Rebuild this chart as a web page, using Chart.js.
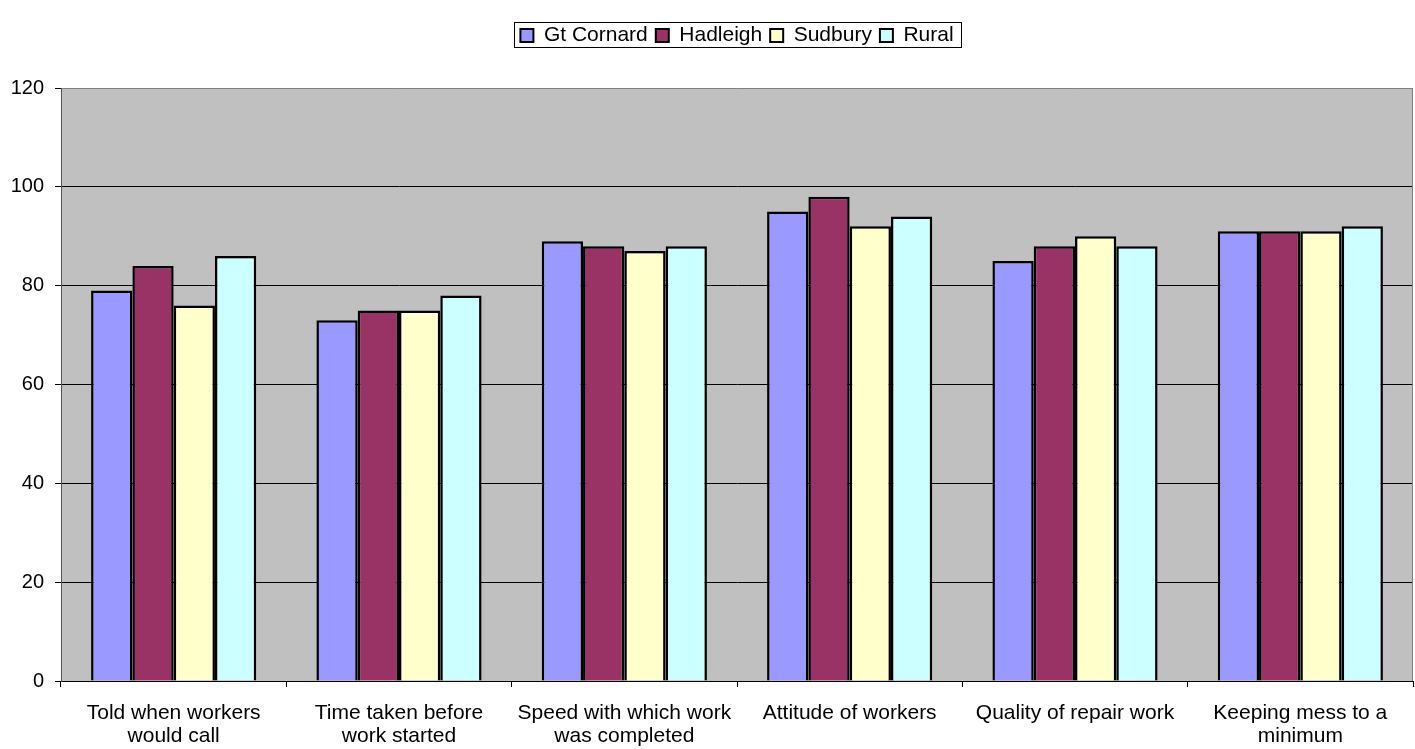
<!DOCTYPE html>
<html>
<head>
<meta charset="utf-8">
<script src="https://cdn.jsdelivr.net/npm/chart.js@4"></script>
<style>
html,body{margin:0;padding:0;background:#fff;}
#wrap{width:1415px;height:749px;}
</style>
</head>
<body>
<div id="wrap"><canvas id="c" width="1415" height="749"></canvas></div>
<script>
const categories = [
  ["Told when workers", "would call"],
  ["Time taken before", "work started"],
  ["Speed with which work", "was completed"],
  ["Attitude of workers"],
  ["Quality of repair work"],
  ["Keeping mess to a", "minimum"]
];
const seriesNames = ["Gt Cornard", "Hadleigh", "Sudbury", "Rural"];
const gtCornard = [79, 73, 89, 95, 85, 91];
const hadleigh  = [84, 75, 88, 98, 88, 91];
const sudbury   = [76, 75, 87, 92, 90, 91];
const rural     = [86, 78, 88, 94, 88, 92];
const yTicks = [0, 20, 40, 60, 80, 100, 120];

const colors = ["#9999FF", "#993366", "#FFFFCC", "#CCFFFF"];
const values = [gtCornard, hadleigh, sudbury, rural];
const FONT = "'Liberation Sans', Arial, sans-serif";

const bgPlugin = {
  id: 'plotBg',
  beforeDraw(chart) {
    const a = chart.chartArea, ctx = chart.ctx;
    ctx.save();
    ctx.fillStyle = '#C0C0C0';
    ctx.fillRect(a.left, a.top, a.right - a.left, a.bottom - a.top);
    ctx.restore();
  },
  afterDatasetsDraw(chart) {
    const a = chart.chartArea, ctx = chart.ctx;
    ctx.save();
    ctx.strokeStyle = '#808080';
    ctx.lineWidth = 1;
    ctx.beginPath();
    ctx.moveTo(a.right - 0.5, a.top);
    ctx.lineTo(a.right - 0.5, a.bottom);
    ctx.stroke();
    ctx.restore();
  },
  afterDraw(chart) {
    const lg = chart.legend;
    if (!lg || !lg.legendHitBoxes || !lg.legendHitBoxes.length) return;
    const hb = lg.legendHitBoxes;
    let l = Infinity, r = -Infinity, t = Infinity, b = -Infinity;
    hb.forEach(h => { l = Math.min(l, h.left); r = Math.max(r, h.left + h.width); t = Math.min(t, h.top); b = Math.max(b, h.top + h.height); });
    const ctx = chart.ctx;
    ctx.save();
    ctx.strokeStyle = '#000';
    ctx.lineWidth = 1;
    ctx.strokeRect(Math.round(l - 6) + 0.5, Math.round(t - 3) + 0.5, Math.round(r - l + 14), Math.round(b - t + 4));
    ctx.restore();
  }
};

new Chart(document.getElementById('c'), {
  type: 'bar',
  data: {
    labels: categories,
    datasets: seriesNames.map((n, i) => ({
      label: n,
      data: values[i],
      backgroundColor: colors[i],
      borderColor: '#000',
      borderWidth: 2.5,
      barPercentage: 1.0,
      categoryPercentage: 0.733
    }))
  },
  options: {
    responsive: false,
    animation: false,
    devicePixelRatio: 1,
    layout: { padding: { left: 0, right: 2, top: 17, bottom: 0 } },
    plugins: {
      tooltip: { enabled: false },
      title: {
        display: true,
        text: '',
        weight: 500,
        font: { size: 10, lineHeight: 1 },
        padding: { top: 0, bottom: 22 }
      },
      legend: {
        position: 'top',
        fullSize: false,
        weight: 1000,
        labels: {
          color: '#000',
          font: { family: FONT, size: 21 },
          boxWidth: 13,
          boxHeight: 13,
          padding: 8,
          generateLabels(chart) {
            return chart.data.datasets.map((d, i) => ({
              text: d.label, fillStyle: d.backgroundColor, strokeStyle: '#000',
              lineWidth: 2, datasetIndex: i, fontColor: '#000'
            }));
          }
        }
      }
    },
    scales: {
      x: {
        grid: { display: true, drawOnChartArea: false, drawTicks: true, tickLength: 6, color: '#000', offset: true },
        border: { display: true, color: '#000', width: 1 },
        ticks: { color: '#000', font: { family: FONT, size: 21, lineHeight: 1.1 }, padding: 15, maxRotation: 0, autoSkip: false },
        afterFit(s) { s.height = 68; }
      },
      y: {
        min: 0, max: 120,
        afterBuildTicks(s) { s.ticks = yTicks.map(v => ({ value: v })); },
        grid: {
          color: ctx => (ctx.tick && ctx.tick.value === 120) ? '#808080' : '#000',
          tickColor: '#000',
          tickLength: 6,
          lineWidth: 1
        },
        border: { display: true, color: '#555', width: 1 },
        ticks: { color: '#000', font: { family: FONT, size: 20 }, padding: 11 },
        afterFit(s) { s.width = 61; }
      }
    }
  },
  plugins: [bgPlugin]
});
</script>
</body>
</html>
